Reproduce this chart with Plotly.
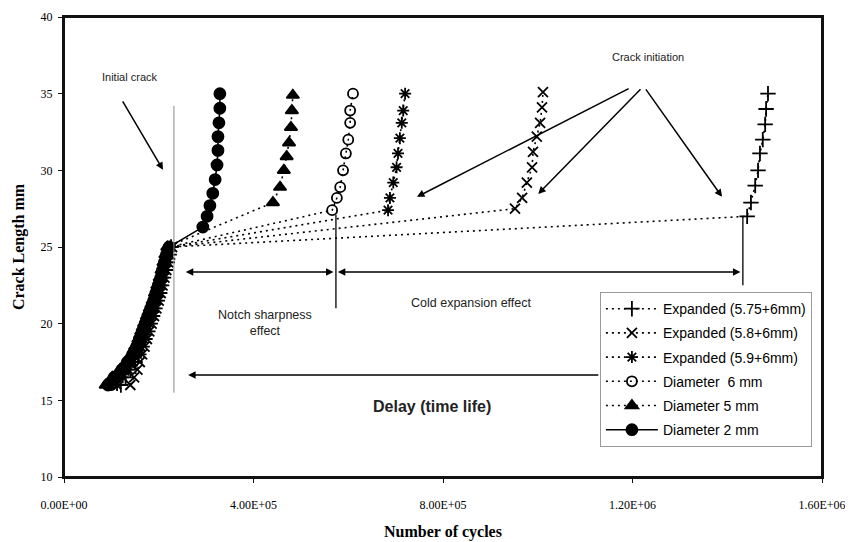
import plotly.graph_objects as go

# crack length (mm) steps of the shared lower part, then each series' own upper part
y_low = [16, 16.5, 17, 17.5, 18, 18.5, 19, 19.5, 20, 20.5, 21, 21.5, 22, 22.5, 23, 23.5, 24, 24.5, 25]

# Diameter 2 mm
d2_x = [93e3, 106e3, 122e3, 134e3, 145e3, 153e3, 159e3, 165e3, 171e3, 177e3, 183e3, 189e3, 194e3,
        199e3, 204e3, 208e3, 212e3, 216e3, 222e3,
        293e3, 302e3, 308e3, 314e3, 319e3, 323e3, 325e3, 325e3, 327e3, 329e3, 329e3]
d2_y = y_low + [26.3, 27.0, 27.7, 28.5, 29.4, 30.35, 31.3, 32.2, 33.1, 34.05, 35.0]

# Diameter 5 mm
d5_x = [88e3, 102e3, 118e3, 131e3, 142e3, 150e3, 157e3, 163e3, 169e3, 175e3, 181e3, 187e3, 192e3,
        197e3, 202e3, 206e3, 210e3, 214e3, 218e3,
        441e3, 456e3, 464e3, 470e3, 475e3, 479e3, 481e3, 483e3]
d5_y = y_low + [27.9, 28.9, 30.0, 30.9, 31.8, 32.8, 33.9, 34.9]

# Diameter 6 mm
d6_x = [100e3, 112e3, 126e3, 138e3, 148e3, 156e3, 162e3, 168e3, 174e3, 180e3, 186e3, 192e3, 197e3,
        202e3, 206e3, 210e3, 214e3, 218e3, 222e3,
        566e3, 576e3, 583e3, 589e3, 595e3, 600e3, 604e3, 604e3, 610e3]
d6_y = y_low + [27.4, 28.2, 28.9, 30.0, 31.1, 32.0, 33.1, 33.9, 35.0]

# Expanded (5.9+6mm)
e59_x = [112e3, 124e3, 136e3, 146e3, 155e3, 162e3, 168e3, 174e3, 180e3, 186e3, 191e3, 196e3, 201e3,
         205e3, 209e3, 213e3, 217e3, 221e3, 225e3,
         684e3, 688e3, 695e3, 702e3, 705e3, 709e3, 713e3, 716e3, 720e3]
e59_y = y_low + [27.4, 28.2, 29.2, 30.2, 31.1, 32.1, 33.1, 33.9, 35.0]

# Expanded (5.8+6mm)
e58_x = [140e3, 148e3, 155e3, 160e3, 165e3, 170e3, 175e3, 180e3, 185e3, 190e3, 195e3, 200e3, 204e3,
         208e3, 212e3, 216e3, 220e3, 224e3, 228e3,
         952e3, 967e3, 977e3, 988e3, 990e3, 998e3, 1005e3, 1009e3, 1011e3]
e58_y = y_low + [27.5, 28.2, 29.2, 30.2, 31.2, 32.2, 33.1, 34.1, 35.1]

# Expanded (5.75+6mm)
e575_x = [120e3, 130e3, 140e3, 150e3, 158e3, 165e3, 171e3, 177e3, 182e3, 187e3, 192e3, 197e3, 202e3,
          206e3, 210e3, 214e3, 218e3, 222e3, 226e3,
          1442e3, 1450e3, 1459e3, 1465e3, 1469e3, 1475e3, 1480e3, 1482e3, 1486e3]
e575_y = y_low + [27.0, 27.9, 29.0, 30.0, 31.1, 32.0, 33.0, 34.0, 35.0]

x_tickvals = [0, 4e5, 8e5, 1.2e6, 1.6e6]
x_ticktext = ["0.00E+00", "4.00E+05", "8.00E+05", "1.20E+06", "1.60E+06"]

SANS = "Liberation Sans, Arial, sans-serif"
SERIF = "Liberation Serif, Times New Roman, serif"
DOT = "2px,4px"
INK = "#111111"

series = [
    ("Expanded (5.75+6mm)", e575_x, e575_y, "cross-thin-open", 11, DOT),
    ("Expanded (5.8+6mm)", e58_x, e58_y, "x-thin-open", 10, DOT),
    ("Expanded (5.9+6mm)", e59_x, e59_y, "asterisk-open", 10, DOT),
    ("Diameter  6 mm", d6_x, d6_y, "circle-open", 10, DOT),
    ("Diameter 5 mm", d5_x, d5_y, "triangle-up", 11, DOT),
    ("Diameter 2 mm", d2_x, d2_y, "circle", 11, "solid"),
]

fig = go.Figure()
for i, (name, xs, ys, sym, size, dash) in enumerate(series):
    fig.add_trace(go.Scatter(
        x=xs, y=ys, name=name, mode="lines+markers", legendgroup=f"g{i}",
        line=dict(color="black", width=1.6, dash=dash),
        marker=dict(symbol=sym, size=size, color="black",
                    line=dict(color="black", width=1.8)),
    ))

# reference lines
for x0, y0, y1, col, w in [(232e3, 15.5, 34.2, "#888888", 1),
                           (574e3, 21.0, 27.1, "black", 1.3),
                           (1433e3, 22.5, 27.0, "black", 1.3)]:
    fig.add_shape(type="line", x0=x0, x1=x0, y0=y0, y1=y1, xref="x", yref="y",
                  line=dict(color=col, width=w))

# plot frame
fig.add_shape(type="rect", xref="paper", yref="paper", x0=0, x1=1, y0=0, y1=1,
              line=dict(color=INK, width=2), layer="above")

def arrow(x, y, ax, ay, both=False):
    fig.add_annotation(x=x, y=y, ax=ax, ay=ay, xref="x", yref="y", axref="x", ayref="y",
                       text="", showarrow=True, arrowhead=2, arrowsize=1, arrowwidth=1.5,
                       arrowcolor="black", arrowside="end+start" if both else "end")

arrow(209e3, 30.03, 122e3, 34.59)
arrow(745e3, 28.27, 1195e3, 35.38)
arrow(1001e3, 28.46, 1220e3, 35.38)
arrow(1389e3, 28.27, 1226e3, 35.38)
arrow(257e3, 23.37, 572e3, 23.37, both=True)
arrow(578e3, 23.37, 1431e3, 23.37, both=True)
arrow(262e3, 16.65, 1131e3, 16.65)

def label(x, y, text, size=12, bold=False):
    fig.add_annotation(x=x, y=y, xref="x", yref="y", text=f"<b>{text}</b>" if bold else text,
                       showarrow=False, font=dict(family=SANS, size=size, color="#222"))

label(139e3, 36.09, "Initial crack", 11)
label(1233e3, 37.4, "Crack initiation", 11)
label(424e3, 20.05, "Notch sharpness<br>effect", 12.5)
label(861e3, 21.35, "Cold expansion effect", 12.5)
label(777e3, 14.57, "Delay (time life)", 16, bold=True)

axis_common = dict(showline=True, linecolor=INK, linewidth=2, mirror=True,
                   showgrid=False, zeroline=False, ticks="outside", ticklen=4,
                   tickcolor=INK, automargin=False,
                   tickfont=dict(family=SERIF, size=12, color="black"))

# page body has an 8px default margin, so the figure is 8px smaller and shifted
fig.update_layout(
    width=845, height=534,
    margin=dict(l=56, r=31, t=9, b=65),
    paper_bgcolor="white", plot_bgcolor="white",
    xaxis=dict(range=[0, 1.6e6], tickvals=x_tickvals, ticktext=x_ticktext,
               ticklabelstandoff=12,
               title=dict(text="<b>Number of cycles</b>", standoff=14,
                          font=dict(family=SERIF, size=16, color="black")),
               **axis_common),
    yaxis=dict(range=[10, 40], dtick=5, ticklabelstandoff=3,
               title=dict(text="<b>Crack Length mm</b>", standoff=12,
                          font=dict(family=SERIF, size=16, color="black")),
               **axis_common),
    legend=dict(x=0.707, y=0.402, xanchor="left", yanchor="top",
                bgcolor="white", bordercolor="#999", borderwidth=1,
                font=dict(family=SANS, size=14, color="black"),
                itemwidth=52, tracegroupgap=3),
    showlegend=True,
)

fig.write_html("out.html")
